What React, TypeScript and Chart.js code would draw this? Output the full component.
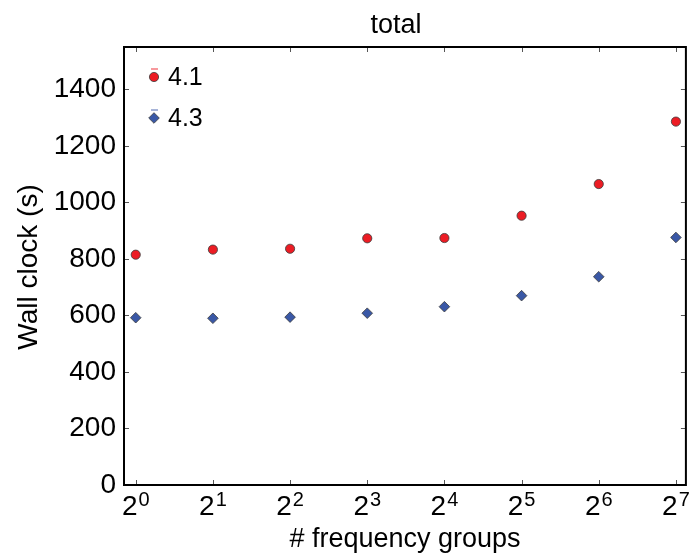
import React, { useEffect, useRef } from 'react';
import { Chart, registerables } from 'chart.js';

Chart.register(...registerables);

const groups = [1, 2, 4, 8, 16, 32, 64, 128];
const series41 = [815, 833, 836, 873, 874, 953, 1065, 1286];
const series43 = [592, 590, 594, 608, 631, 670, 737, 876];
const yTickValues = [0, 200, 400, 600, 800, 1000, 1200, 1400];
const seriesNames = ['4.1', '4.3'];
const titleText = 'total';
const xTitle = '# frequency groups';
const yTitle = 'Wall clock (s)';

const RED = '#ec1c24';
const BLUE = '#3a58a6';
const EDGE = '#3b3b3b';
const FONT = '"Liberation Sans", Arial, Helvetica, sans-serif';

const framePlugin = {
  id: 'framePlugin',
  afterDraw(chart: any) {
    const { ctx, chartArea: a, scales } = chart;
    const xs = scales.x;
    const ys = scales.y;
    ctx.save();
    ctx.strokeStyle = '#555';
    ctx.lineWidth = 1;
    const tl = 5;
    yTickValues.forEach((v) => {
      const y = Math.round(ys.getPixelForValue(v)) + 0.5;
      ctx.beginPath();
      ctx.moveTo(a.left, y);
      ctx.lineTo(a.left + tl, y);
      ctx.moveTo(a.right, y);
      ctx.lineTo(a.right - tl, y);
      ctx.stroke();
    });
    groups.forEach((g) => {
      const x = Math.round(xs.getPixelForValue(Math.log2(g))) + 0.5;
      ctx.beginPath();
      ctx.moveTo(x, a.bottom);
      ctx.lineTo(x, a.bottom - tl);
      ctx.moveTo(x, a.top);
      ctx.lineTo(x, a.top + tl);
      ctx.stroke();
    });
    ctx.strokeStyle = '#000';
    ctx.lineWidth = 2;
    ctx.strokeRect(a.left, a.top, a.right - a.left, a.bottom - a.top);

    ctx.fillStyle = '#000';
    groups.forEach((g) => {
      const e = String(Math.round(Math.log2(g)));
      const x = xs.getPixelForValue(Math.log2(g));
      ctx.font = `28px ${FONT}`;
      const wb = ctx.measureText('2').width;
      ctx.font = `20px ${FONT}`;
      const we = ctx.measureText(e).width;
      const left = x - (wb + we + 1) / 2;
      ctx.textAlign = 'left';
      ctx.textBaseline = 'alphabetic';
      ctx.font = `28px ${FONT}`;
      ctx.fillText('2', left, 515);
      ctx.font = `20px ${FONT}`;
      ctx.fillText(e, left + wb + 1, 506);
    });

    ctx.font = `27px ${FONT}`;
    ctx.textAlign = 'center';
    ctx.textBaseline = 'alphabetic';
    ctx.fillText(titleText, 396, 33);
    ctx.fillText(xTitle, (a.left + a.right) / 2, 547);
    ctx.save();
    ctx.translate(37, (a.top + a.bottom) / 2 + 1);
    ctx.rotate(-Math.PI / 2);
    ctx.font = `28px ${FONT}`;
    ctx.textAlign = 'center';
    ctx.fillText(yTitle, 0, 0);
    ctx.restore();

    const entries = [
      { name: seriesNames[0], color: RED, style: 'circle', y: 77 },
      { name: seriesNames[1], color: BLUE, style: 'diamond', y: 118 },
    ];
    entries.forEach((en) => {
      const mx = 154;
      ctx.globalAlpha = 0.6;
      ctx.strokeStyle = en.color;
      ctx.lineWidth = 1.5;
      ctx.beginPath();
      ctx.moveTo(mx - 3, en.y - 8);
      ctx.lineTo(mx + 4, en.y - 8);
      ctx.stroke();
      ctx.globalAlpha = 1;
      ctx.fillStyle = en.color;
      ctx.strokeStyle = EDGE;
      ctx.lineWidth = 0.8;
      ctx.beginPath();
      if (en.style === 'circle') {
        ctx.arc(mx, en.y, 4.6, 0, Math.PI * 2);
      } else {
        ctx.moveTo(mx, en.y - 5.3);
        ctx.lineTo(mx + 5.3, en.y);
        ctx.lineTo(mx, en.y + 5.3);
        ctx.lineTo(mx - 5.3, en.y);
        ctx.closePath();
      }
      ctx.fill();
      ctx.stroke();
      ctx.fillStyle = '#000';
      ctx.font = `25px ${FONT}`;
      ctx.textAlign = 'left';
      ctx.textBaseline = 'middle';
      ctx.fillText(en.name, 168, en.y + 1);
    });
    ctx.restore();
  },
};

export default function App() {
  const ref = useRef<HTMLCanvasElement | null>(null);
  useEffect(() => {
    document.body.style.margin = '0';
    const canvas = ref.current;
    if (!canvas) return;
    const chart = new Chart(canvas, {
      type: 'scatter',
      data: {
        datasets: [
          {
            label: seriesNames[0],
            data: groups.map((g, i) => ({ x: Math.log2(g), y: series41[i] })),
            pointStyle: 'circle',
            pointRadius: 4.6,
            pointHoverRadius: 4.6,
            backgroundColor: RED,
            borderColor: EDGE,
            borderWidth: 0.8,
          },
          {
            label: seriesNames[1],
            data: groups.map((g, i) => ({ x: Math.log2(g), y: series43[i] })),
            pointStyle: 'rectRot',
            pointRadius: 5.3,
            pointHoverRadius: 5.3,
            backgroundColor: BLUE,
            borderColor: EDGE,
            borderWidth: 0.8,
          },
        ],
      },
      options: {
        animation: false,
        responsive: false,
        maintainAspectRatio: false,
        layout: { padding: { top: 47, right: 4, left: 0, bottom: 0 } },
        plugins: {
          legend: { display: false },
          title: { display: false },
          tooltip: { enabled: false },
        },
        scales: {
          x: {
            type: 'linear',
            min: Math.log2(0.9),
            max: Math.log2(140),
            grid: { display: false },
            border: { display: false },
            ticks: { display: false },
            afterFit: (s: any) => {
              s.height = 69;
            },
          },
          y: {
            type: 'linear',
            min: 0,
            max: 1550,
            grid: { display: false },
            border: { display: false },
            afterBuildTicks: (s: any) => {
              s.ticks = yTickValues.map((v) => ({ value: v }));
            },
            ticks: {
              color: '#000',
              padding: 0,
              font: { size: 28, family: FONT },
              callback: (v: any) => String(v),
            },
            afterFit: (s: any) => {
              s.width = 124;
            },
          },
        },
      },
      plugins: [framePlugin],
    });
    return () => chart.destroy();
  }, []);
  return (
    <div style={{ width: 692, height: 554 }}>
      <canvas ref={ref} width={692} height={554} style={{ display: 'block' }} />
    </div>
  );
}
